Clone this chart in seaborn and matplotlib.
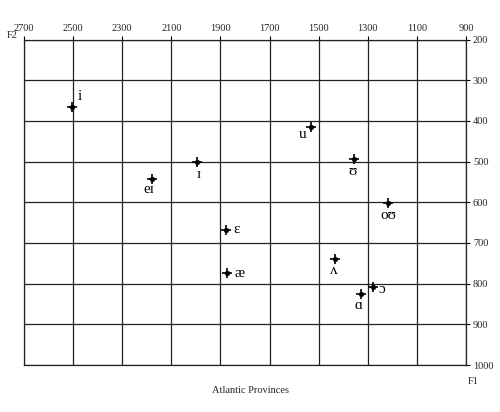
import matplotlib
matplotlib.use("Agg")
import matplotlib.pyplot as plt
import seaborn as sns
import pandas as pd

vowels = ["i", "u", "ɪ", "eɪ", "ɛ", "æ", "ʊ", "oʊ", "ʌ", "ɔ", "ɑ"]
f2 = [2505, 1531, 1996, 2179, 1877, 1873, 1356, 1218, 1434, 1279, 1328]
f1 = [366, 415, 501, 543, 668, 774, 494, 602, 739, 808, 825]
x_ticks = [2700, 2500, 2300, 2100, 1900, 1700, 1500, 1300, 1100, 900]
y_ticks = [200, 300, 400, 500, 600, 700, 800, 900, 1000]
title = "Atlantic Provinces"

# label offsets in points (dx, dy, ha, va)
offsets = {
    "i": (4, 3, "left", "bottom"),
    "u": (-3, -1, "right", "top"),
    "ɪ": (1, -4, "center", "top"),
    "eɪ": (-2, -3, "center", "top"),
    "ɛ": (5, 0, "left", "center"),
    "æ": (5, 0, "left", "center"),
    "ʊ": (-1, -4, "center", "top"),
    "oʊ": (0, -4, "center", "top"),
    "ʌ": (-1, -4, "center", "top"),
    "ɔ": (4, -2, "left", "center"),
    "ɑ": (-2, -4, "center", "top"),
}

sns.set_style("white")
serif = ["Liberation Serif", "DejaVu Serif"]
plt.rcParams["font.family"] = serif

df = pd.DataFrame({"vowel": vowels, "F2": f2, "F1": f1})

fig = plt.figure(figsize=(5, 4.12), dpi=100)
ax = fig.add_axes([0.048, 0.114, 0.884, 0.790])

sns.scatterplot(data=df, x="F2", y="F1", ax=ax, marker="+", s=45,
                color="black", linewidth=1.2, zorder=5)
sns.scatterplot(data=df, x="F2", y="F1", ax=ax, marker="o", s=12,
                color="black", edgecolor="black", zorder=6)

for v, x, y in zip(vowels, f2, f1):
    dx, dy, ha, va = offsets[v]
    ax.annotate(v, (x, y), xytext=(dx, dy), textcoords="offset points",
                ha=ha, va=va, fontsize=11, family=serif, color="black")

ax.set_xlim(2700, 900)
ax.set_ylim(1000, 200)
ax.set_xticks(x_ticks)
ax.set_yticks(y_ticks)
ax.xaxis.tick_top()
ax.yaxis.tick_right()
ax.tick_params(axis="both", direction="out", length=3, width=0.8,
               labelsize=7.5, color="black", pad=2)
ax.grid(True, color="#222222", linewidth=0.9)
for s in ax.spines.values():
    s.set_color("#222222")
    s.set_linewidth(0.9)
ax.set_xlabel("")
ax.set_ylabel("")

fig.text(0.014, 0.913, "F2", fontsize=7.5, ha="left", va="center", family=serif)
fig.text(0.935, 0.073, "F1", fontsize=7.5, ha="left", va="center", family=serif)
fig.text(0.5, 0.052, title, fontsize=7.5, ha="center", va="center", family=serif)

fig.savefig("out.png", dpi=100)
